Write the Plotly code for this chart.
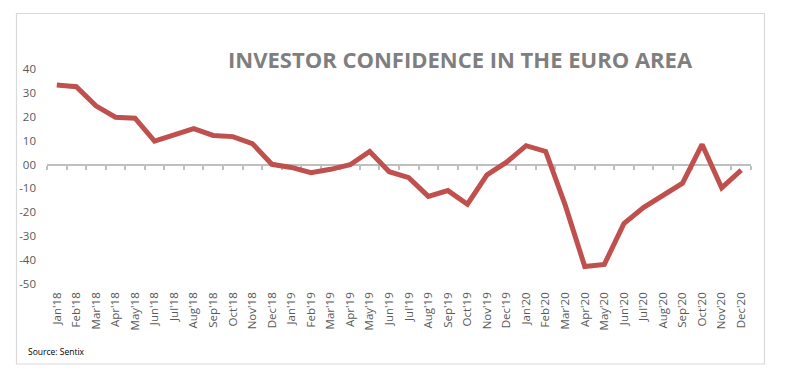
import plotly.graph_objects as go

months = ["Jan'18","Feb'18","Mar'18","Apr'18","May'18","Jun'18","Jul'18","Aug'18","Sep'18","Oct'18","Nov'18","Dec'18",
          "Jan'19","Feb'19","Mar'19","Apr'19","May'19","Jun'19","Jul'19","Aug'19","Sep'19","Oct'19","Nov'19","Dec'19",
          "Jan'20","Feb'20","Mar'20","Apr'20","May'20","Jun'20","Jul'20","Aug'20","Sep'20","Oct'20","Nov'20","Dec'20"]
confidence = [33.3, 32.6, 24.6, 19.8, 19.4, 9.8, 12.4, 15.0, 12.2, 11.7, 8.8, 0.1,
              -1.2, -3.4, -2.0, -0.1, 5.5, -3.0, -5.5, -13.3, -10.9, -16.6, -4.3, 1.0,
              7.9, 5.5, -17.0, -42.7, -41.8, -24.7, -18.0, -13.1, -7.8, 8.4, -9.7, -2.3]
ytick_vals = [40, 30, 20, 10, 0, -10, -20, -30, -40, -50]
ytick_text = ["40", "30", "20", "10", "00", "-10", "-20", "-30", "-40", "-50"]

W, H = 789, 383
L, R, T, B = 47, 38, 69, 99
pw, ph = W - L - R, H - T - B

def px(x):
    return (x - L) / pw

def py(y):
    return (H - B - y) / ph

fig = go.Figure()
fig.add_trace(go.Scatter(x=months, y=confidence, mode="lines",
                         line=dict(color="#C0504D", width=5), hoverinfo="x+y", showlegend=False))
fig.add_trace(go.Scatter(x=months, y=confidence, mode="lines", xaxis="x2",
                         line=dict(color="rgba(0,0,0,0)", width=0), hoverinfo="skip", showlegend=False))

fig.update_layout(
    width=W, height=H,
    margin=dict(l=L, r=R, t=T, b=B),
    paper_bgcolor="white", plot_bgcolor="white",
    showlegend=False,
    xaxis=dict(type="category", categoryarray=months, range=[-0.5, 35.5],
               showline=False, showgrid=False, zeroline=False, ticks="",
               tickangle=-90, tickfont=dict(family="Open Sans", size=11.5, color="#595959"),
               ticklabelstandoff=5),
    xaxis2=dict(type="category", categoryarray=months, range=[-0.5, 35.5],
                overlaying="x", anchor="free", position=(0 - (-50)) / 90,
                showline=True, linecolor="#BFBFBF", linewidth=2,
                ticks="outside", ticklen=4, tickwidth=1.5, tickcolor="#BFBFBF",
                tickson="boundaries", showticklabels=False, showgrid=False, zeroline=False,
                layer="below traces"),
    yaxis=dict(range=[-50, 40], tickvals=ytick_vals, ticktext=ytick_text,
               showline=False, showgrid=False, zeroline=False, ticks="",
               tickfont=dict(family="Open Sans", size=11.5, color="#595959"),
               ticklabelstandoff=10),
    shapes=[dict(type="rect", xref="paper", yref="paper",
                 x0=px(16.5), x1=px(764.5), y0=py(364), y1=py(13.5),
                 line=dict(color="#D9D9D9", width=1.2), fillcolor="rgba(0,0,0,0)", layer="below")],
    annotations=[
        dict(text="<b>INVESTOR CONFIDENCE IN THE EURO AREA</b>", xref="paper", yref="paper",
             x=px(460.5), y=py(59), xanchor="center", yanchor="middle", showarrow=False,
             font=dict(family="Open Sans", size=22, color="#7F7F7F")),
        dict(text="Source: Sentix", xref="paper", yref="paper",
             x=px(26), y=py(351), xanchor="left", yanchor="middle", showarrow=False,
             font=dict(family="Open Sans", size=8.5, color="#000000")),
    ],
)

fig.write_html("out.html", config={"displayModeBar": False},
               post_script="document.body.style.margin='0';")
